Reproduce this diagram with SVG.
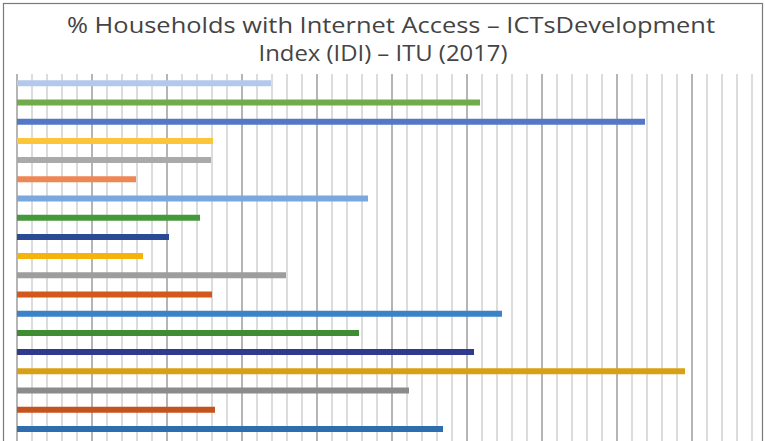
<svg xmlns="http://www.w3.org/2000/svg" width="765" height="441" viewBox="0 0 765 441">
<style>
.title{font-family:"Open Sans","Liberation Sans",sans-serif;font-size:22px;fill:#444444;text-anchor:middle}
.minor{stroke:#d0d0d0;stroke-width:1.5}
.major{stroke:#9c9c9c;stroke-width:1.5}
.bar{stroke-width:6;stroke-linecap:butt}
</style>
<rect x="0" y="0" width="765" height="441" fill="#ffffff"/>
<rect x="3.5" y="3.5" width="759" height="445" fill="none" stroke="#7a7a7a" stroke-width="1.2"/>
<g id="title">
<text class="title" x="391" y="33" textLength="648" lengthAdjust="spacingAndGlyphs">% Households with Internet Access – ICTsDevelopment</text>
<text class="title" x="383" y="61" textLength="249" lengthAdjust="spacingAndGlyphs">Index (IDI) – ITU (2017)</text>
</g>
<g id="grid">
<line class="major" x1="17" y1="74" x2="17" y2="441"/>
<line class="minor" x1="32" y1="74" x2="32" y2="441"/>
<line class="minor" x1="47" y1="74" x2="47" y2="441"/>
<line class="minor" x1="62" y1="74" x2="62" y2="441"/>
<line class="minor" x1="77" y1="74" x2="77" y2="441"/>
<line class="major" x1="92" y1="74" x2="92" y2="441"/>
<line class="minor" x1="107" y1="74" x2="107" y2="441"/>
<line class="minor" x1="122" y1="74" x2="122" y2="441"/>
<line class="minor" x1="137" y1="74" x2="137" y2="441"/>
<line class="minor" x1="152" y1="74" x2="152" y2="441"/>
<line class="major" x1="167" y1="74" x2="167" y2="441"/>
<line class="minor" x1="182" y1="74" x2="182" y2="441"/>
<line class="minor" x1="197" y1="74" x2="197" y2="441"/>
<line class="minor" x1="212" y1="74" x2="212" y2="441"/>
<line class="minor" x1="227" y1="74" x2="227" y2="441"/>
<line class="major" x1="242" y1="74" x2="242" y2="441"/>
<line class="minor" x1="257" y1="74" x2="257" y2="441"/>
<line class="minor" x1="272" y1="74" x2="272" y2="441"/>
<line class="minor" x1="287" y1="74" x2="287" y2="441"/>
<line class="minor" x1="302" y1="74" x2="302" y2="441"/>
<line class="major" x1="317" y1="74" x2="317" y2="441"/>
<line class="minor" x1="332" y1="74" x2="332" y2="441"/>
<line class="minor" x1="347" y1="74" x2="347" y2="441"/>
<line class="minor" x1="362" y1="74" x2="362" y2="441"/>
<line class="minor" x1="377" y1="74" x2="377" y2="441"/>
<line class="major" x1="392" y1="74" x2="392" y2="441"/>
<line class="minor" x1="407" y1="74" x2="407" y2="441"/>
<line class="minor" x1="422" y1="74" x2="422" y2="441"/>
<line class="minor" x1="437" y1="74" x2="437" y2="441"/>
<line class="minor" x1="452" y1="74" x2="452" y2="441"/>
<line class="major" x1="467" y1="74" x2="467" y2="441"/>
<line class="minor" x1="482" y1="74" x2="482" y2="441"/>
<line class="minor" x1="497" y1="74" x2="497" y2="441"/>
<line class="minor" x1="512" y1="74" x2="512" y2="441"/>
<line class="minor" x1="527" y1="74" x2="527" y2="441"/>
<line class="major" x1="542" y1="74" x2="542" y2="441"/>
<line class="minor" x1="557" y1="74" x2="557" y2="441"/>
<line class="minor" x1="572" y1="74" x2="572" y2="441"/>
<line class="minor" x1="587" y1="74" x2="587" y2="441"/>
<line class="minor" x1="602" y1="74" x2="602" y2="441"/>
<line class="major" x1="617" y1="74" x2="617" y2="441"/>
<line class="minor" x1="632" y1="74" x2="632" y2="441"/>
<line class="minor" x1="647" y1="74" x2="647" y2="441"/>
<line class="minor" x1="662" y1="74" x2="662" y2="441"/>
<line class="minor" x1="677" y1="74" x2="677" y2="441"/>
<line class="major" x1="692" y1="74" x2="692" y2="441"/>
<line class="minor" x1="707" y1="74" x2="707" y2="441"/>
<line class="minor" x1="722" y1="74" x2="722" y2="441"/>
<line class="minor" x1="737" y1="74" x2="737" y2="441"/>
<line class="minor" x1="752" y1="74" x2="752" y2="441"/>
</g>
<g id="bars">
<line class="bar" x1="17" y1="83.3" x2="271" y2="83.3" stroke="#b2c9ec" stroke-width="5"/>
<line class="bar" x1="17" y1="102.5" x2="480" y2="102.5" stroke="#72ab4a"/>
<line class="bar" x1="17" y1="121.7" x2="645" y2="121.7" stroke="#5577c8"/>
<line class="bar" x1="17" y1="140.9" x2="213" y2="140.9" stroke="#fdc63a"/>
<line class="bar" x1="17" y1="160.1" x2="211" y2="160.1" stroke="#aaaaaa"/>
<line class="bar" x1="17" y1="179.3" x2="136" y2="179.3" stroke="#ee8755"/>
<line class="bar" x1="17" y1="198.5" x2="368" y2="198.5" stroke="#7aa8de"/>
<line class="bar" x1="17" y1="217.7" x2="200" y2="217.7" stroke="#46993a"/>
<line class="bar" x1="17" y1="236.9" x2="169" y2="236.9" stroke="#2b4a96"/>
<line class="bar" x1="17" y1="256.1" x2="143" y2="256.1" stroke="#f4b40c"/>
<line class="bar" x1="17" y1="275.3" x2="286" y2="275.3" stroke="#9d9d9d"/>
<line class="bar" x1="17" y1="294.5" x2="212" y2="294.5" stroke="#d2581c"/>
<line class="bar" x1="17" y1="313.7" x2="502" y2="313.7" stroke="#3b82c8"/>
<line class="bar" x1="17" y1="332.9" x2="359" y2="332.9" stroke="#3f8c32"/>
<line class="bar" x1="17" y1="352.1" x2="474" y2="352.1" stroke="#2f3a8f"/>
<line class="bar" x1="17" y1="371.3" x2="685" y2="371.3" stroke="#d8a114"/>
<line class="bar" x1="17" y1="390.5" x2="409" y2="390.5" stroke="#8b8b8b"/>
<line class="bar" x1="17" y1="409.7" x2="215" y2="409.7" stroke="#c4531d"/>
<line class="bar" x1="17" y1="428.9" x2="443" y2="428.9" stroke="#2f6eae"/>
</g>
</svg>
